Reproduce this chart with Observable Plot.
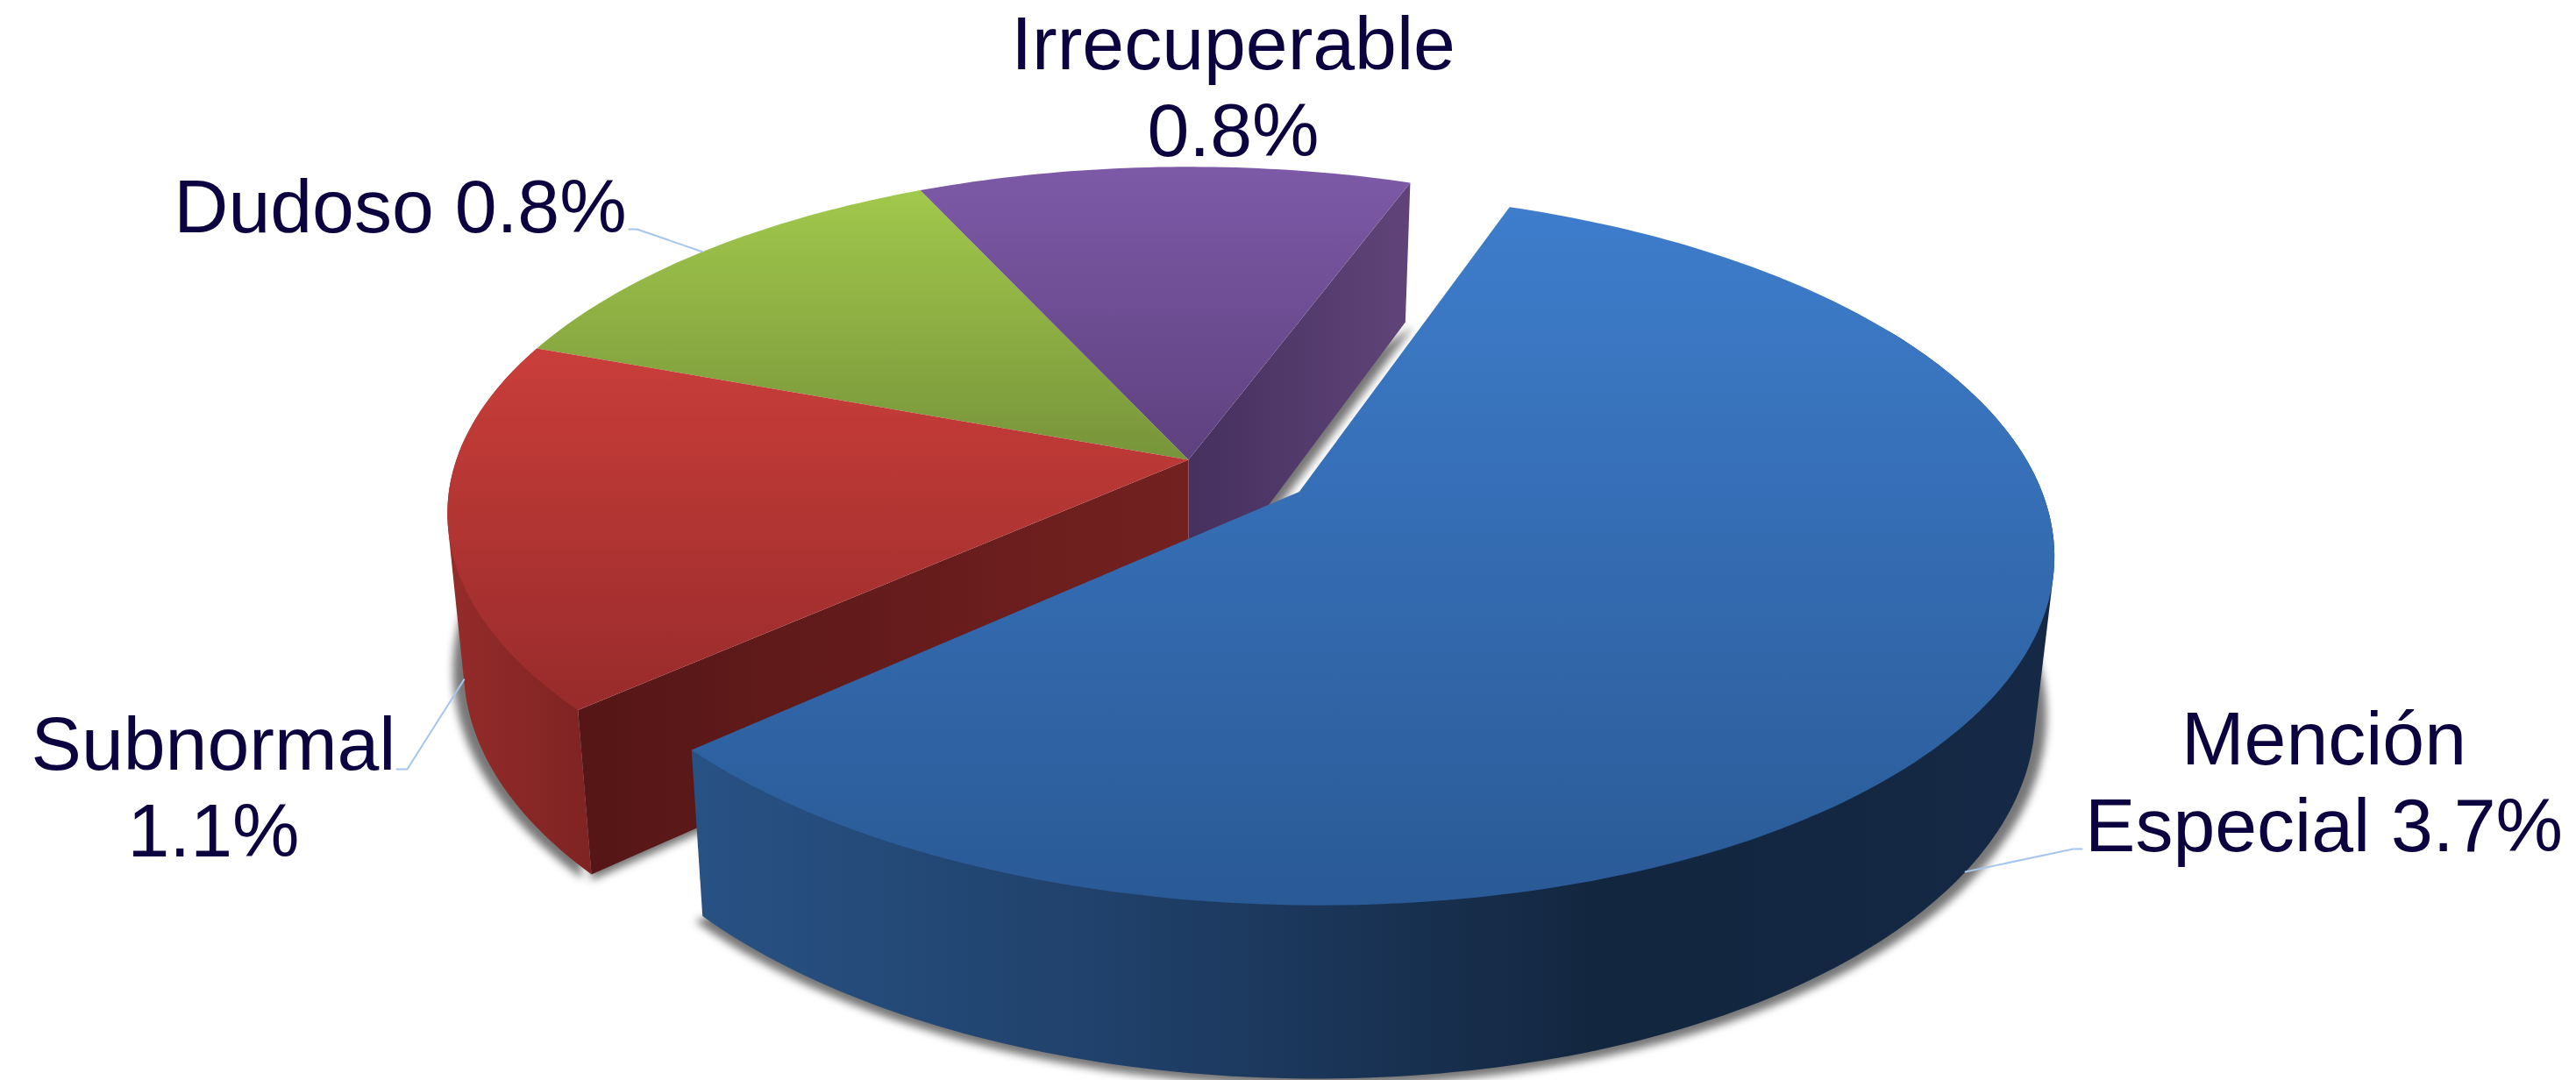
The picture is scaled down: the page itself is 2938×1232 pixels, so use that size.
<!DOCTYPE html>
<html>
<head>
<meta charset="utf-8">
<script src="https://cdn.jsdelivr.net/npm/d3@7"></script>
<script src="https://cdn.jsdelivr.net/npm/@observablehq/plot@0.6"></script>
<style>
  html, body { margin: 0; background: #fff; }
  svg { display: block; }
</style>
</head>
<body>
<script>
// Portfolio by risk class, as a tilted and extruded pie.
const categories = ["Mención Especial", "Subnormal", "Dudoso", "Irrecuperable"];
const values = [3.7, 1.1, 0.8, 0.8];
const labelHeads = ["Mención\nEspecial ", "Subnormal\n", "Dudoso ", "Irrecuperable\n"];

const W = 2938, H = 1232;

// Camera: where the pie axis lands, and how the disc is foreshortened.
const hub = [1355, 524];
const radiusX = 835, radiusY = 386, tilt = 0.155;
const startAngle = 20.3;
const blueOffset = [0.149, 0.0934];

const project = (u, v) => {
  const w = 1 - tilt * v;
  return [hub[0] + radiusX * u / w, hub[1] + radiusY * v / w];
};
// The lower face of the disc sits below the upper one and converges slightly.
const lower = ([x, y]) => [hub[0] + (x - hub[0]) * 0.978, y + 159 + (y - 206) * 0.047];

const rad = (a) => a * Math.PI / 180;
const rimPoint = (a, off) => project(off[0] + Math.sin(rad(a)), off[1] - Math.cos(rad(a)));
const arc = (a0, a1, off) => {
  const n = Math.ceil(Math.abs(a1 - a0));
  return d3.range(n + 1).map((i) => rimPoint(a0 + (a1 - a0) * i / n, off));
};

// Slice angles follow from the values.
const total = d3.sum(values);
const cuts = d3.cumsum(values).map((c) => startAngle + 360 * c / total);
const slices = categories.map((name, i) => ({
  name,
  a0: i ? cuts[i - 1] : startAngle,
  a1: cuts[i],
  mid: ((i ? cuts[i - 1] : startAngle) + cuts[i]) / 2,
  off: i ? [0, 0] : blueOffset,
  text: labelHeads[i] + values[i] + "%"
}));

const topFace = (s) => [project(...s.off), ...arc(s.a0, s.a1, s.off)];
// The curved side is the hull of both rims over the part of the arc facing the viewer.
const outerWall = (a0, a1, off) => {
  const top = arc(a0, a1, off);
  return d3.polygonHull([...top, ...top.map(lower)]);
};
const lowerArc = (a0, a1, off) => arc(a0, a1, off).map(lower);
const radialWall = (a, off) => {
  const c = project(...off), r = rimPoint(a, off);
  return [c, r, lower(r), lower(c)];
};

const [blue, red, green, purple] = slices;

const gradients = [
  ["gBlueTop", "v", ["#3e7dcc", "#2a5a96"]],
  ["gRedTop", "v", ["#c93e3a", "#982b2b"]],
  ["gGreenTop", "v", ["#a2c84c", "#77943a"]],
  ["gPurpleTop", "v", ["#7d5aa7", "#5e417f"]],
  ["gBlueWall", "h", ["#285284", "#1f3f68", "#13263f", "#152845"]],
  ["gRedWall", "h", ["#942c2a", "#7f2323"]],
  ["gRedRadial", "h", ["#561616", "#732120"]],
  ["gPurpleRadial", "h", ["#45305e", "#604479"]]
];
const defs = () => {
  const d = d3.create("svg:defs");
  for (const [id, direction, stops] of gradients) {
    const g = d.append("linearGradient").attr("id", id)
      .attr("x1", 0).attr("y1", 0)
      .attr("x2", direction === "h" ? 1 : 0).attr("y2", direction === "v" ? 1 : 0);
    stops.forEach((c, i) => g.append("stop")
      .attr("offset", i / (stops.length - 1)).attr("stop-color", c));
  }
  return d.node();
};

const face = (pts, fill, extra = {}) =>
  Plot.line(pts, {x: (d) => d[0], y: (d) => d[1], fill, stroke: "none", curve: "linear-closed", ...extra});
const soft = {imageFilter: "blur(5px)", fillOpacity: 0.75};
const grown = (pts) => pts.map(([x, y]) => [1405 + (x - 1405) * 1.014, 640 + (y - 640) * 1.014]);
const shifted = (pts, dx, dy) => pts.map(([x, y]) => [x + dx, y + dy]);

// Label blocks: horizontal centre, last baseline, and the elbow of the leader, if any.
const labelX = [2650, 243, 456, 1406];
const labelY = [970, 976, 264, 177];
const elbowA = [[2374, 968], [452, 877], [717, 261], null];
const elbowB = [[2364, 968], [464, 877], [726, 261], null];
const onLowerRim = [true, true, false, false];

const labelRows = slices.map((s, i) => ({text: s.text, x: labelX[i], y: labelY[i]}));
const leaders = slices.flatMap((s, i) => {
  if (!elbowA[i]) return [];
  const p = rimPoint(s.mid, s.off);
  return [[elbowA[i], elbowB[i], onLowerRim[i] ? lower(p) : p]];
});

const purpleSide = radialWall(purple.a1, purple.off);
const redSide = radialWall(red.a0, red.off);

const chart = Plot.plot({
  width: W,
  height: H,
  margin: 0,
  x: {domain: [0, W], range: [0, W], axis: null},
  y: {domain: [0, H], range: [0, H], axis: null},
  marks: [
    defs,
    // Soft shadow under the rest of the pie, then its visible sides and top.
    face(grown(lowerArc(red.a0, red.a1, red.off)), "#4a4a4a", soft),
    face(shifted([redSide[2], redSide[3], redSide[1]], 0, 7), "#4a4a4a", soft),
    face(shifted([purpleSide[2], purpleSide[3], purpleSide[0]], 9, 5), "#4a4a4a", soft),
    face(purpleSide, "url(#gPurpleRadial)"),
    face(outerWall(red.a0, red.a1, red.off), "url(#gRedWall)"),
    face(redSide, "url(#gRedRadial)"),
    face(topFace(green), "url(#gGreenTop)"),
    face(topFace(purple), "url(#gPurpleTop)"),
    face(topFace(red), "url(#gRedTop)"),
    // The large slice pulled out towards the viewer.
    face(grown(lowerArc(blue.a0 + 40, blue.a1, blue.off)), "#4a4a4a", soft),
    face(outerWall(blue.a0 + 40, blue.a1, blue.off), "url(#gBlueWall)"),
    face(topFace(blue), "url(#gBlueTop)"),
    ...leaders.map((pts) => Plot.line(pts, {
      x: (d) => d[0], y: (d) => d[1], stroke: "#a6c6ee", strokeWidth: 2
    })),
    Plot.text(labelRows, {
      x: "x", y: "y", text: "text",
      textAnchor: "middle", lineAnchor: "bottom", lineHeight: 1.14,
      fontSize: 86, fontFamily: "Liberation Sans", fill: "#0b0340"
    })
  ]
});
document.body.appendChild(chart);
</script>
</body>
</html>
